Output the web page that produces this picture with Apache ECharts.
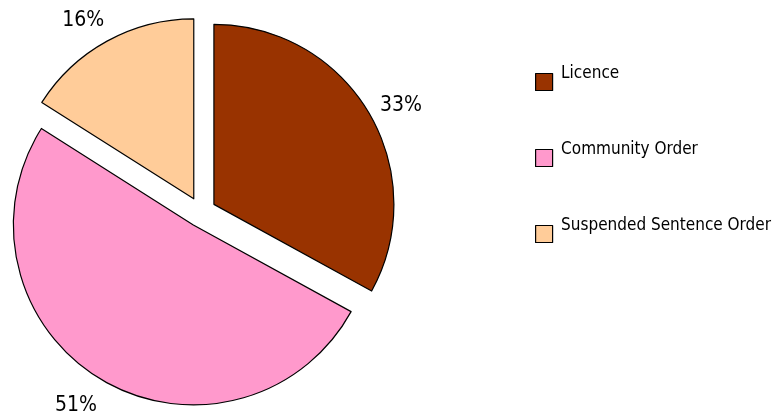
<!DOCTYPE html>
<html>
<head>
<meta charset="utf-8">
<script src="https://cdn.jsdelivr.net/npm/echarts@6/dist/echarts.min.js"></script>
<style>
  html, body { margin: 0; padding: 0; background: #fff; }
  #chart { width: 778px; height: 416px; }
</style>
</head>
<body>
<div id="chart"></div>
<script>
// Share of orders by type (percent)
const categories = ['Licence', 'Community Order', 'Suspended Sentence Order'];
const values = [33, 51, 16];
const colors = ['#993300', '#FF99CC', '#FFCC99'];

const FONT = '"DejaVu Sans Condensed", "DejaVu Sans", sans-serif';
const CENTER = [201, 212];
const OFFSET = 15;
// small nudges so each percent label sits clear of its slice corner
const LABEL_NUDGE = [[2, 11], [-8, -4], [-7, 10]];

const sliceData = categories.map((name, i) => ({
  name: name,
  value: values[i],
  selected: true,
  itemStyle: { color: colors[i] }
}));

// transparent ring just outside the pie, used only to carry the percent labels
const labelData = categories.map((name, i) => ({
  name: name,
  value: values[i],
  selected: true
}));

const chart = echarts.init(document.getElementById('chart'), null, { renderer: 'canvas' });
chart.setOption({
  animation: false,
  backgroundColor: '#fff',
  legend: {
    orient: 'vertical',
    left: 530,
    top: 60,
    itemWidth: 24,
    itemHeight: 17,
    itemGap: 42,
    selectedMode: false,
    formatter: name => name + '\n ',
    textStyle: {
      fontFamily: FONT,
      fontSize: 17,
      lineHeight: 17,
      color: '#000'
    },
    data: categories.map((name, i) => ({
      name: name,
      icon: 'path://M0,0H10V10H0Z',
      itemStyle: { color: colors[i], borderColor: '#000', borderWidth: 1.2 }
    }))
  },
  series: [
    {
      type: 'pie',
      center: CENTER,
      radius: 180,
      startAngle: 90,
      clockwise: true,
      selectedMode: 'multiple',
      selectedOffset: OFFSET,
      avoidLabelOverlap: false,
      label: { show: false },
      labelLine: { show: false },
      itemStyle: { borderColor: '#000', borderWidth: 1.2 },
      emphasis: { disabled: true },
      select: { itemStyle: { borderColor: '#000', borderWidth: 1.2 } },
      data: sliceData
    },
    {
      type: 'pie',
      center: CENTER,
      radius: [199, 225],
      startAngle: 90,
      clockwise: true,
      silent: true,
      legendHoverLink: false,
      selectedMode: 'multiple',
      selectedOffset: OFFSET,
      avoidLabelOverlap: false,
      percentPrecision: 0,
      itemStyle: { color: 'rgba(0,0,0,0)', borderWidth: 0 },
      emphasis: { disabled: true },
      label: {
        show: true,
        position: 'inside',
        formatter: '{d}%',
        fontFamily: FONT,
        fontSize: 21,
        color: '#000'
      },
      labelLine: { show: false },
      labelLayout: params => ({
        dx: LABEL_NUDGE[params.dataIndex][0],
        dy: LABEL_NUDGE[params.dataIndex][1]
      }),
      data: labelData
    }
  ]
});
</script>
</body>
</html>
